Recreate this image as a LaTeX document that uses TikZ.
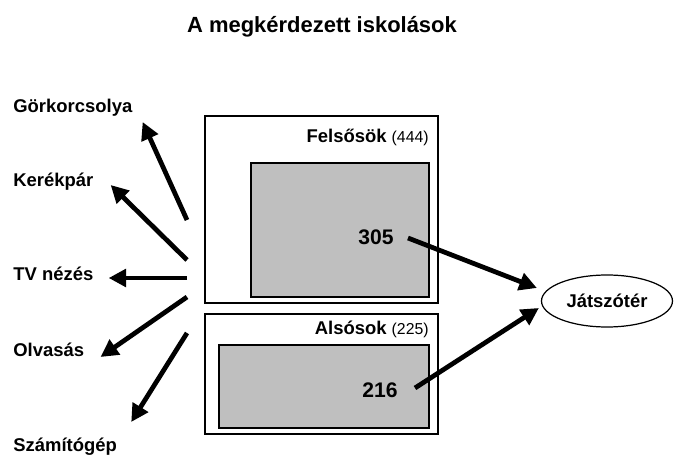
\documentclass[tikz,border=0pt]{standalone}
\usepackage{fontspec}
\setmainfont{Liberation Sans}
\usetikzlibrary{arrows.meta, calc, shapes.geometric}

\begin{document}
\begin{tikzpicture}[
  x=0.02cm,
  y=-0.02cm,
  title/.style={font=\fontsize{12.5}{14}\selectfont\bfseries},
  activity/.style={anchor=west, inner sep=0pt, font=\fontsize{10.5}{12}\selectfont\bfseries},
  group/.style={draw, line width=1pt, anchor=north west, inner sep=0pt},
  share/.style={draw, line width=1pt, fill=black!25, anchor=north west, inner sep=0pt},
  head/.style={anchor=east, inner sep=0pt, font=\fontsize{10.5}{12}\selectfont\bfseries},
  count/.style={anchor=east, inner sep=0pt, font=\fontsize{12}{14}\selectfont\bfseries},
  place/.style={draw, ellipse, line width=0.7pt, inner sep=0pt, font=\fontsize{10.5}{12}\selectfont\bfseries},
  link/.style={line width=2.7pt, -{Triangle[length=10pt, width=10pt]}}
  ]
    \useasboundingbox (0,0) rectangle (674,456);

    % Title
    \node[title] (cim) at (322,27) {A megkérdezett iskolások};

    % Felsosok
    \node[group, minimum width=4.66cm, minimum height=3.74cm] (felso) at (204,115) {};
    \node[share, minimum width=3.56cm, minimum height=2.68cm] (felsoin) at (250,162) {};
    \node[head] (felsohead) at (429,137) {Felsősök {\mdseries\fontsize{9}{10}\selectfont(444)}};
    \node[count] (n305) at (394,237) {305};

    % Alsosok
    \node[group, minimum width=4.66cm, minimum height=2.4cm] (also) at (204,313) {};
    \node[share, minimum width=4.2cm, minimum height=1.66cm] (alsoin) at (218,344) {};
    \node[head] (alsohead) at (429,329) {Alsósok {\mdseries\fontsize{9}{10}\selectfont(225)}};
    \node[count] (n216) at (398,390) {216};

    % Jatszoter
    \node[place, minimum width=2.62cm, minimum height=1.04cm] (jatszo) at (607,301) {Játszótér};

    % activities on the left
    \node[activity] (gork) at (13,108) {Görkorcsolya};
    \node[activity] (kerek) at (13,182) {Kerékpár};
    \node[activity] (tv) at (13,274) {TV nézés};
    \node[activity] (olvas) at (13,350) {Olvasás};
    \node[activity] (szamit) at (13,447) {Számítógép};

    % fan start points
    \coordinate (f1) at (187,220);
    \coordinate (f2) at (187,260);
    \coordinate (f3) at (187,278);
    \coordinate (f4) at (187,297);
    \coordinate (f5) at (187,333);

    \draw[link] (f1) -- ($(gork.east)+(10,14)$);
    \draw[link] (f2) -- ($(kerek.east)+(17,3)$);
    \draw[link] (f3) -- ($(tv.east)+(15,4)$);
    \draw[link] (f4) -- ($(olvas.east)+(16,7)$);
    \draw[link] (f5) -- ($(szamit.east)+(14,-25)$);

    % to the playground
    \draw[link] ($(n305.east)+(14,1)$) -- ($(jatszo.west)+(-4,-13)$);
    \draw[link] ($(n216.east)+(17,-2)$) -- ($(jatszo.west)+(-2,7)$);

\end{tikzpicture}
\end{document}
